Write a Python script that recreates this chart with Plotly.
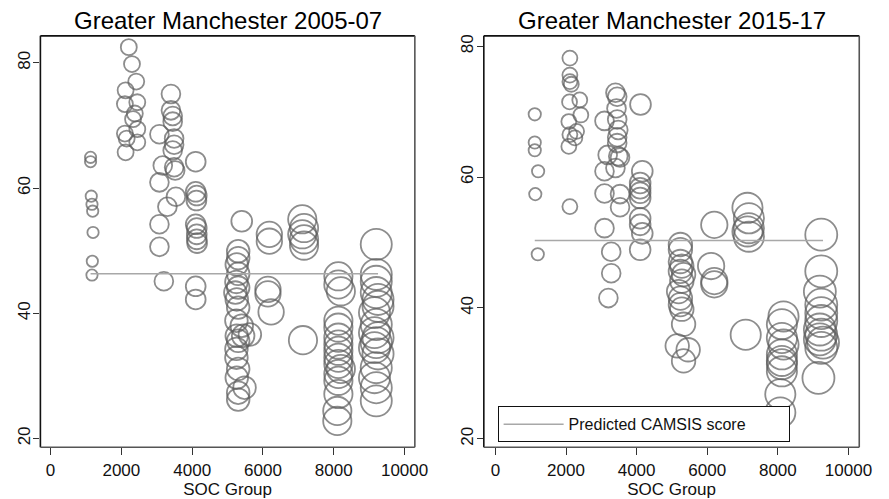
import plotly.graph_objects as go

# ---------------- data ----------------
panel_titles = ["Greater Manchester 2005-07", "Greater Manchester 2015-17"]
x_label = "SOC Group"
legend_label = "Predicted CAMSIS score"
x_ticks = [0, 2000, 4000, 6000, 8000, 10000]
x_tick_text = ["0", "2000", "4000", "6000", "8000", "10000"]
y_ticks = [20, 40, 60, 80]

# 2005-07 : SOC group, CAMSIS score, frequency weight
soc_0507 = [
    1130, 1130, 1150, 1170, 1190, 1200, 1180, 1170,
    2210, 2300, 2420, 2120, 2450, 2100, 2380, 2330, 2450, 2100, 2150, 2450, 2120,
    3400, 3400, 3450, 3450, 3075, 3490, 3490, 3450, 3170, 3490, 3520, 3075, 3540, 3300, 3075, 3075, 3200,
    4100, 4100, 4130, 4120, 4100, 4130, 4130, 4130, 4140, 4100, 4100,
    5300, 5300, 5260, 5300, 5250, 5300, 5220, 5260, 5300, 5250, 5400, 5440, 5260, 5300, 5250, 5250, 5300,
    5260, 5480, 5300, 5300,
    5400, 5630,
    6180, 6180, 6140, 6140, 6230,
    7110, 7160, 7110, 7160, 7160, 7130,
    8130, 8130, 8200, 8130, 8130, 8130, 8130, 8130, 8130, 8130, 8200, 8130, 8130, 8130, 8100, 8100,
    9200, 9200, 9200, 9200, 9250, 9250, 9150, 9200, 9150, 9250, 9200, 9150, 9250, 9200, 9150, 9200, 9200,
]
camsis_0507 = [
    64.9, 64.2, 58.7, 57.4, 56.3, 52.9, 48.3, 46.1,
    82.5, 79.8, 77.0, 75.6, 73.7, 73.4, 71.9, 71.0, 69.4, 68.7, 67.9, 67.3, 65.7,
    75.0, 72.4, 71.5, 70.6, 68.6, 67.9, 66.9, 66.0, 63.6, 63.3, 62.8, 60.9, 58.6, 57.0, 54.2, 50.6, 45.1,
    64.2, 59.4, 58.8, 58.0, 54.2, 53.6, 52.6, 51.8, 51.2, 44.3, 42.2,
    49.9, 48.8, 47.8, 46.3, 45.0, 44.1, 43.3, 42.2, 40.9, 38.8, 38.0, 36.4, 36.4, 35.6, 34.3, 32.9, 31.1,
    29.7, 28.1, 27.3, 26.2,
    54.7, 36.6,
    52.6, 51.5, 43.8, 43.1, 40.2,
    55.0, 53.6, 52.6, 51.8, 50.8, 35.7,
    45.9, 44.6, 43.5, 38.8, 37.7, 36.1, 35.0, 34.0, 32.9, 31.9, 31.1, 30.3, 29.2, 27.1, 24.4, 22.8,
    51.0, 46.2, 45.1, 43.3, 42.2, 41.1, 40.1, 38.2, 36.9, 36.1, 35.3, 34.5, 33.5, 31.3, 29.7, 28.1, 26.0,
]
weight_0507 = (
    [16] * 8 + [32] * 13 + [44] * 17 + [49] * 11 + [64] * 21 + [54, 64]
    + [81] * 5 + [100] * 6 + [100] * 16 + [121] * 17
)
pred_0507 = 46.3

# 2015-17
soc_1517 = [
    1115, 1115, 1115, 1210, 1130, 1200,
    2110, 2110, 2110, 2150, 2390, 2100, 2420, 2080, 2300, 2110, 2250, 2080, 2110,
    3400, 3450, 3430, 3090, 3450, 3480, 3450, 3450, 3180, 3480, 3530, 3090, 3400, 3090, 3530, 3530, 3090,
    3280, 3280, 3200,
    4110, 4160, 4100, 4100, 4100, 4100, 4100, 4100, 4160, 4100,
    5240, 5240, 5240, 5280, 5240, 5330, 5280, 5190, 5240, 5240, 5280, 5330, 5150, 5460, 5330,
    6200, 6110, 6200, 6200,
    7140, 7180, 7180, 7140, 7180, 7090,
    8160, 8115, 8115, 8160, 8115, 8115, 8115, 8115, 8070, 8070,
    9230, 9230, 9190, 9230, 9230, 9230, 9190, 9230, 9190, 9280, 9230, 9150,
]
camsis_1517 = [
    69.6, 65.3, 64.1, 60.9, 57.4, 48.2,
    78.2, 75.6, 74.6, 74.2, 71.8, 71.5, 69.5, 68.5, 67.0, 66.5, 66.0, 64.7, 55.5,
    72.9, 72.3, 70.5, 68.6, 68.8, 67.2, 66.1, 65.2, 63.4, 63.2, 63.0, 60.9, 61.4, 57.5, 57.4, 55.4, 52.2,
    48.6, 45.3, 41.5,
    71.1, 60.9, 59.1, 58.3, 57.6, 56.8, 53.7, 52.7, 51.4, 48.9,
    49.7, 48.9, 47.1, 46.4, 45.6, 45.1, 44.1, 42.5, 41.5, 40.5, 39.8, 37.5, 34.2, 33.6, 31.9,
    52.7, 46.4, 44.1, 43.6,
    55.3, 53.7, 52.2, 51.7, 50.9, 35.9,
    38.7, 37.5, 35.4, 34.4, 32.9, 31.9, 31.4, 30.3, 26.8, 24.0,
    51.2, 45.6, 42.5, 40.5, 39.2, 38.0, 36.7, 35.9, 35.2, 34.7, 33.9, 29.3,
]
weight_1517 = (
    [19] * 6 + [28] * 13 + [44] * 20 + [54] * 10 + [69] * 15
    + [87] * 4 + [114] * 6 + [114] * 10 + [128] * 12
)
pred_1517 = 50.3

# ---------------- styling ----------------
FONT = "Liberation Sans, Arial, sans-serif"
CIRCLE = "#5c5c5c"
PRED = "#a8a8a8"
W, H = 889, 499

panels = [
    dict(soc=soc_0507, camsis=camsis_0507, weight=weight_0507, pred=pred_0507,
         xdom=(41 / W, 421 / W), xr=(-287, 10290), yr=(18.6, 84.3)),
    dict(soc=soc_1517, camsis=camsis_1517, weight=weight_1517, pred=pred_1517,
         xdom=(491 / W, 872 / W), xr=(-328, 10306), yr=(18.7, 81.6)),
]
ydom = (1 - 447 / H, 1 - 34 / H)

fig = go.Figure()
shapes = []
annotations = []
for i, p in enumerate(panels):
    sfx = "" if i == 0 else str(i + 1)
    xa, ya = "x" + sfx, "y" + sfx
    fig.add_trace(go.Scatter(
        x=p["soc"], y=p["camsis"], mode="markers", xaxis=xa, yaxis=ya,
        marker=dict(size=p["weight"], sizemode="area", sizeref=0.25,
                    symbol="circle-open", color=CIRCLE,
                    line=dict(width=1.8, color=CIRCLE)),
        showlegend=False, hoverinfo="skip"))
    xs = sorted(p["soc"])
    fig.add_trace(go.Scatter(
        x=xs, y=[p["pred"]] * len(xs), mode="lines", xaxis=xa, yaxis=ya,
        line=dict(color=PRED, width=1.5), name=legend_label,
        showlegend=(i == 1)))
    ax = dict(domain=list(p["xdom"]), range=list(p["xr"]), anchor=ya,
              tickvals=x_ticks, ticktext=x_tick_text, ticks="outside",
              ticklen=7, tickwidth=1.2,
              tickcolor="#333", showgrid=False, zeroline=False, showline=False,
              tickfont=dict(size=17, color="#111", family=FONT),
              title=dict(text=x_label, standoff=0,
                         font=dict(size=17, color="#111", family=FONT)))
    ay = dict(domain=list(ydom), range=list(p["yr"]), anchor=xa,
              tickvals=y_ticks, ticks="outside", ticklen=6, tickwidth=1.2,
              tickcolor="#333", showgrid=False, zeroline=False, showline=False,
              tickangle=-90, ticklabelstandoff=-3,
              tickfont=dict(size=17, color="#111", family=FONT))
    fig.update_layout(**{"xaxis" + sfx: ax, "yaxis" + sfx: ay})
    # plot-region frame
    ref_x = xa + " domain"
    ref_y = ya + " domain"
    for (x0, y0, x1, y1, col) in [(0, 1, 1, 1, "#111"), (0, 0, 0, 1, "#111"),
                                  (1, 0, 1, 1, "#555"), (0, 0, 1, 0, "#555")]:
        shapes.append(dict(type="line", xref=ref_x, yref=ref_y, x0=x0, y0=y0,
                           x1=x1, y1=y1, line=dict(color=col, width=1.6)))
    annotations.append(dict(text=panel_titles[i], xref="paper", yref="paper",
                            x=(p["xdom"][0] + p["xdom"][1]) / 2, y=1 - 19 / H,
                            xanchor="center", yanchor="middle", showarrow=False,
                            font=dict(size=24, color="#000", family=FONT)))

fig.update_layout(
    width=W, height=H, margin=dict(l=0, r=0, t=0, b=0),
    paper_bgcolor="white", plot_bgcolor="white",
    shapes=shapes, annotations=annotations,
    legend=dict(x=505 / W, y=1 - 442 / H, xanchor="left", yanchor="bottom",
                orientation="h", entrywidth=215, entrywidthmode="pixels",
                itemwidth=60, bordercolor="#111", borderwidth=1,
                bgcolor="white", font=dict(size=16, color="#111", family=FONT)),
)

fig.write_html("out.html")
